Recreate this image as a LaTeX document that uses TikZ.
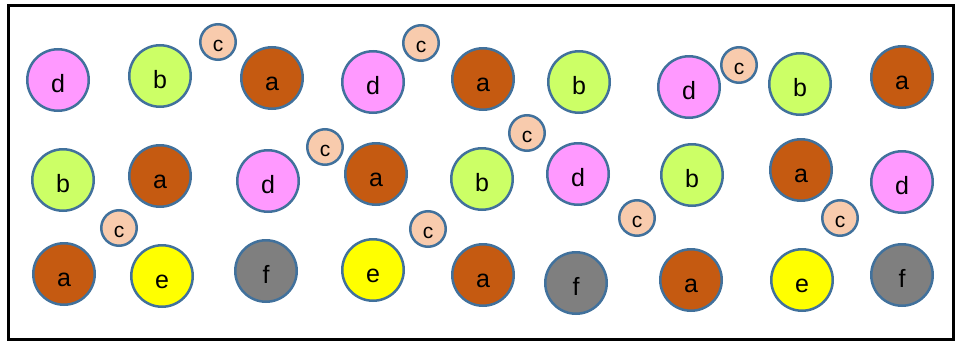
\documentclass[tikz,border=0pt]{standalone}
\usepackage{fontspec}
\setmainfont{Liberation Sans}
\usepackage{tikz}
\usetikzlibrary{positioning}
\definecolor{ballline}{RGB}{65, 113, 156}
\definecolor{ballpink}{RGB}{255, 153, 255}
\definecolor{ballgreen}{RGB}{204, 255, 102}
\definecolor{ballbrown}{RGB}{197, 90, 17}
\definecolor{ballpeach}{RGB}{248, 203, 173}
\definecolor{ballyellow}{RGB}{255, 255, 0}
\definecolor{ballgray}{RGB}{127, 127, 127}

\tikzset{
  bigball/.style={circle, draw=ballline, line width=2.5pt, minimum size=61.5pt, inner sep=0pt,
    text height=25pt, text depth=0pt, font=\fontsize{25}{25}\selectfont},
  smallball/.style={circle, draw=ballline, line width=2.5pt, minimum size=35.5pt, inner sep=0pt,
    fill=ballpeach, text height=18pt, text depth=0pt, font=\fontsize{21}{21}\selectfont},
  ballA/.style={bigball, fill=ballbrown},
  ballB/.style={bigball, fill=ballgreen},
  ballD/.style={bigball, fill=ballpink},
  ballE/.style={bigball, fill=ballyellow},
  ballF/.style={bigball, fill=ballgray}
}

\begin{document}
\begin{tikzpicture}[x=1pt, y=-1pt]
\useasboundingbox (0,0) rectangle (962,343);
% Frame
\draw[line width=3pt] (8,5) rectangle (953,339);

% Top row
\node[ballD] (d1) at (58,80) {d};
\node[ballB] (b1) at (160,76) {b};
\node[smallball] (c1) at (218,42) {c};
\node[ballA] (a1) at (272,78) {a};
\node[ballD] (d2) at (373,82) {d};
\node[smallball] (c2) at (421,43) {c};
\node[ballA] (a2) at (483,79) {a};
\node[ballB] (b2) at (579,82) {b};
\node[ballD] (d3) at (689,87) {d};
\node[smallball] (c3) at (739,65) {c};
\node[ballB] (b3) at (800,84) {b};
\node[ballA] (a3) at (902,77) {a};

% Middle row
\node[ballB] (b4) at (63,180) {b};
\node[ballA] (a4) at (160,176) {a};
\node[ballD] (d4) at (268,181) {d};
\node[smallball] (c4) at (325,147) {c};
\node[ballA] (a5) at (376,174) {a};
\node[ballB] (b5) at (482,179) {b};
\node[smallball] (c5) at (527,133) {c};
\node[ballD] (d5) at (578,174) {d};
\node[ballB] (b6) at (692,175) {b};
\node[ballA] (a6) at (801,170) {a};
\node[ballD] (d6) at (902,182) {d};

% Bottom row
\node[smallball] (c6) at (119,228) {c};
\node[ballA] (a7) at (64,274) {a};
\node[ballE] (e1) at (162,276) {e};
\node[ballF] (f1) at (266,271) {f};
\node[ballE] (e2) at (373,270) {e};
\node[smallball] (c7) at (428,229) {c};
\node[ballA] (a8) at (483,275) {a};
\node[ballF] (f2) at (576,283) {f};
\node[smallball] (c8) at (637,218) {c};
\node[ballA] (a9) at (691,280) {a};
\node[ballE] (e3) at (802,280) {e};
\node[smallball] (c9) at (840,218) {c};
\node[ballF] (f3) at (902,275) {f};
\end{tikzpicture}
\end{document}
